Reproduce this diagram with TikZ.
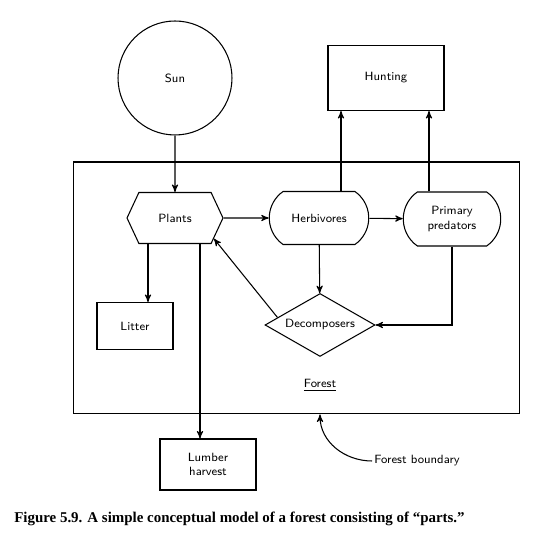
\documentclass[tikz,border=0pt]{standalone}
\usepackage{fontspec}
\newfontfamily\capfont{Liberation Serif}
\usetikzlibrary{positioning, shapes, arrows}

\begin{document}
\begin{tikzpicture}[x=0.02cm, y=0.02cm, ->, >=stealth', semithick, auto,
  every node/.style={font=\fontsize{6.8}{8}\selectfont\sffamily, align=center, inner sep=1pt},
  block/.style={draw, rectangle, minimum width=#1},
  hexa/.style={draw, signal, signal to=west and east, signal pointer angle=130},
  blob/.style={draw, rounded rectangle, rounded rectangle arc length=110},
  diam/.style={draw, diamond, shape aspect=1.75, inner sep=0pt},
  ]
  \useasboundingbox (0,0) rectangle (547,536);

  \node[draw, circle, minimum size=2.28cm] (sun) at (175,458) {Sun};
  \node[block=2.32cm, minimum height=1.3cm] (hunt) at (386,458) {Hunting};
  \node[block=8.94cm, minimum height=5.04cm] (bound) at (296.5,248) {};

  \node[hexa, minimum width=1.92cm, minimum height=1.02cm] (plants) at (175,318) {Plants};
  \node[blob, minimum width=2.06cm, minimum height=1.06cm] (herb) at (319,318) {Herbivores};
  \node[blob, minimum width=2.02cm, minimum height=1.08cm] (pred) at (452,317) {Primary\\predators};
  \node[block=1.52cm, minimum height=0.94cm] (litter) at (135,210) {Litter};
  \node[diam, minimum width=2.2cm, minimum height=1.26cm] (dec) at (320,211) {Decomposers};
  \node (forest) at (320,151) {\underline{Forest}};

  \node[block=1.92cm, minimum height=1.02cm] (lumber) at (208,71.5) {Lumber\\harvest};
  \node (fb) at (417,75) {Forest boundary};

  \node[anchor=west, font=\capfont\bfseries\fontsize{8.5}{10}\selectfont] (caption) at (12,17)
    {Figure 5.9. A simple conceptual model of a forest consisting of “parts.”};

  \coordinate (h1) at ([xshift=-0.9cm]hunt.south);
  \coordinate (h2) at ([xshift=0.86cm]hunt.south);
  \coordinate (p1) at ([xshift=-0.54cm]plants.south);
  \coordinate (p2) at ([xshift=0.5cm]plants.south);

  \path
   (sun) edge (plants)
   (plants) edge (herb)
   (herb) edge (pred)
   (h1 |- herb.north) edge (h1)
   (h2 |- pred.north) edge (h2)
   (p1) edge (p1 |- litter.north)
   (p2) edge (p2 |- lumber.north)
   (herb) edge (dec)
   (dec.170) edge (plants.-28)
   (pred.south) edge[to path={|- (\tikztotarget)}] (dec.east)
   (fb.west) edge[out=180, in=-90] ([xshift=0.47cm]bound.south);

\end{tikzpicture}
\end{document}
